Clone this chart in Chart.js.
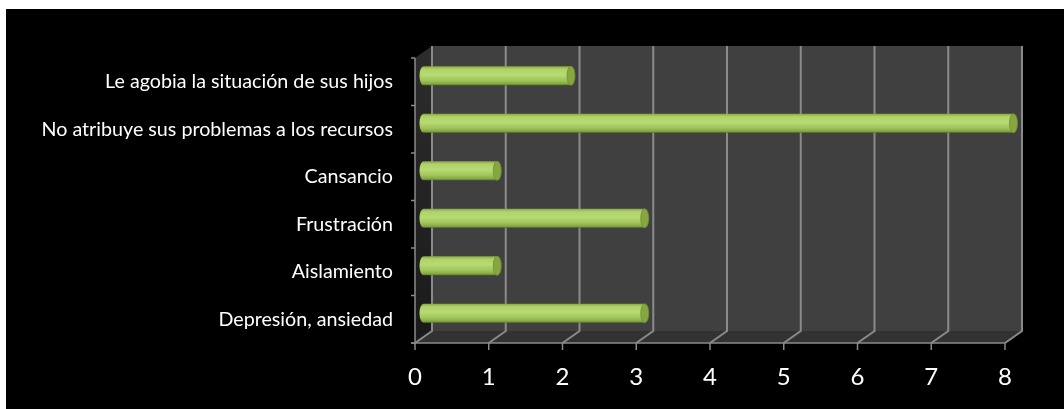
<!DOCTYPE html>
<html>
<head>
<meta charset="utf-8">
<script src="https://cdn.jsdelivr.net/npm/chart.js"></script>
<style>
  html, body { margin: 0; padding: 0; background: #ffffff; }
  #panel { position: absolute; left: 6px; top: 9px; width: 1058px; height: 400px; background: #000000; }
  canvas { display: block; }
</style>
</head>
<body>
<div id="panel"><canvas id="chart" width="1058" height="400"></canvas></div>
<script>
// Datos del gráfico
const categories = [
  'Le agobia la situación de sus hijos',
  'No atribuye sus problemas a los recursos',
  'Cansancio',
  'Frustración',
  'Aislamiento',
  'Depresión, ansiedad'
];
const counts = [2, 8, 1, 3, 1, 3];
const valueTicks = ['0', '1', '2', '3', '4', '5', '6', '7', '8'];

// Profundidad del efecto 3D (px)
const DX = 17;
const DY = 12;

const gridColor = '#8a8a8a';

// Paredes, suelo y rejilla en perspectiva
const wallPlugin = {
  id: 'wall3d',
  beforeDatasetsDraw(chart) {
    const { ctx } = chart;
    const xs = chart.scales.x;
    const ys = chart.scales.y;
    const left = xs.getPixelForValue(xs.min);
    const right = xs.getPixelForValue(xs.max);
    const top = ys.top;
    const bottom = ys.bottom;

    ctx.save();
    // pared del fondo
    ctx.fillStyle = '#404040';
    ctx.fillRect(left + DX, top - DY, right - left, bottom - top);

    // pared lateral
    const side = ctx.createLinearGradient(0, top, 0, bottom);
    side.addColorStop(0, '#2c2c2c');
    side.addColorStop(1, '#1a1a1a');
    ctx.fillStyle = side;
    ctx.beginPath();
    ctx.moveTo(left, top);
    ctx.lineTo(left + DX, top - DY);
    ctx.lineTo(left + DX, bottom - DY);
    ctx.lineTo(left, bottom);
    ctx.closePath();
    ctx.fill();

    // suelo
    ctx.fillStyle = '#323232';
    ctx.beginPath();
    ctx.moveTo(left, bottom);
    ctx.lineTo(right, bottom);
    ctx.lineTo(right + DX, bottom - DY);
    ctx.lineTo(left + DX, bottom - DY);
    ctx.closePath();
    ctx.fill();

    // líneas de división
    ctx.strokeStyle = gridColor;
    ctx.lineWidth = 2;
    for (let v = xs.min; v <= xs.max; v++) {
      const px = xs.getPixelForValue(v);
      ctx.beginPath();
      ctx.moveTo(px, bottom);
      ctx.lineTo(px + DX, bottom - DY);
      ctx.lineTo(px + DX, top - DY);
      ctx.stroke();
    }
    ctx.restore();
  },
  afterDatasetsDraw(chart) {
    const { ctx } = chart;
    const xs = chart.scales.x;
    const ys = chart.scales.y;
    const meta = chart.getDatasetMeta(0);

    ctx.save();
    meta.data.forEach(bar => {
      drawCylinder(ctx, bar.base + DX / 2, bar.x + DX / 2, bar.y - DY / 2, bar.height);
    });

    // ejes frontales
    const left = xs.getPixelForValue(xs.min);
    const right = xs.getPixelForValue(xs.max);
    ctx.strokeStyle = gridColor;
    ctx.lineWidth = 1.5;
    ctx.beginPath();
    ctx.moveTo(left - 4, ys.bottom);
    ctx.lineTo(right, ys.bottom);
    ctx.moveTo(left, ys.top);
    ctx.lineTo(left, ys.bottom);
    ctx.stroke();

    for (let v = xs.min; v <= xs.max; v++) {
      const px = xs.getPixelForValue(v);
      ctx.beginPath();
      ctx.moveTo(px, ys.bottom);
      ctx.lineTo(px, ys.bottom + 7);
      ctx.stroke();
    }
    const step = (ys.bottom - ys.top) / categories.length;
    for (let i = 0; i <= categories.length; i++) {
      const py = ys.top + i * step;
      ctx.beginPath();
      ctx.moveTo(left - 4, py);
      ctx.lineTo(left, py);
      ctx.stroke();
    }
    ctx.restore();
  }
};

// Barra cilíndrica horizontal
function drawCylinder(ctx, x0, x1, yc, h) {
  const r = h / 2;
  const rx = 4;
  const g = ctx.createLinearGradient(0, yc - r, 0, yc + r);
  g.addColorStop(0, '#87a545');
  g.addColorStop(0.15, '#afd268');
  g.addColorStop(0.45, '#b8da73');
  g.addColorStop(0.75, '#9ec45a');
  g.addColorStop(0.92, '#85a843');
  g.addColorStop(1, '#5c7628');

  ctx.fillStyle = g;
  ctx.beginPath();
  ctx.moveTo(x1, yc - r);
  ctx.lineTo(x0, yc - r);
  ctx.ellipse(x0, yc, rx, r, 0, -Math.PI / 2, Math.PI / 2, true);
  ctx.lineTo(x1, yc + r);
  ctx.closePath();
  ctx.fill();

  ctx.fillStyle = '#86a640';
  ctx.strokeStyle = '#718d35';
  ctx.lineWidth = 0.8;
  ctx.beginPath();
  ctx.ellipse(x1, yc, rx, r, 0, 0, Math.PI * 2);
  ctx.fill();
  ctx.stroke();
}

new Chart(document.getElementById('chart'), {
  type: 'bar',
  data: {
    labels: categories,
    datasets: [{
      data: counts,
      backgroundColor: 'rgba(0,0,0,0)',
      borderWidth: 0,
      barPercentage: 0.4,
      categoryPercentage: 1
    }]
  },
  options: {
    indexAxis: 'y',
    responsive: false,
    animation: false,
    events: [],
    layout: { padding: { top: 49, right: 59, left: 0, bottom: 0 } },
    plugins: {
      legend: { display: false },
      tooltip: { enabled: false }
    },
    scales: {
      x: {
        min: 0,
        max: 8,
        afterFit(scale) { scale.height = 66; },
        grid: { display: false, drawTicks: false },
        border: { display: false },
        ticks: {
          stepSize: 1,
          padding: 20,
          color: '#ffffff',
          font: { family: 'Lato', size: 24 },
          callback: v => valueTicks[v]
        }
      },
      y: {
        afterFit(scale) { scale.width = 409; },
        grid: { display: false, drawTicks: false },
        border: { display: false },
        ticks: {
          padding: 22,
          color: '#ffffff',
          font: { family: 'Lato', size: 19.7 }
        }
      }
    }
  },
  plugins: [wallPlugin]
});
</script>
</body>
</html>
